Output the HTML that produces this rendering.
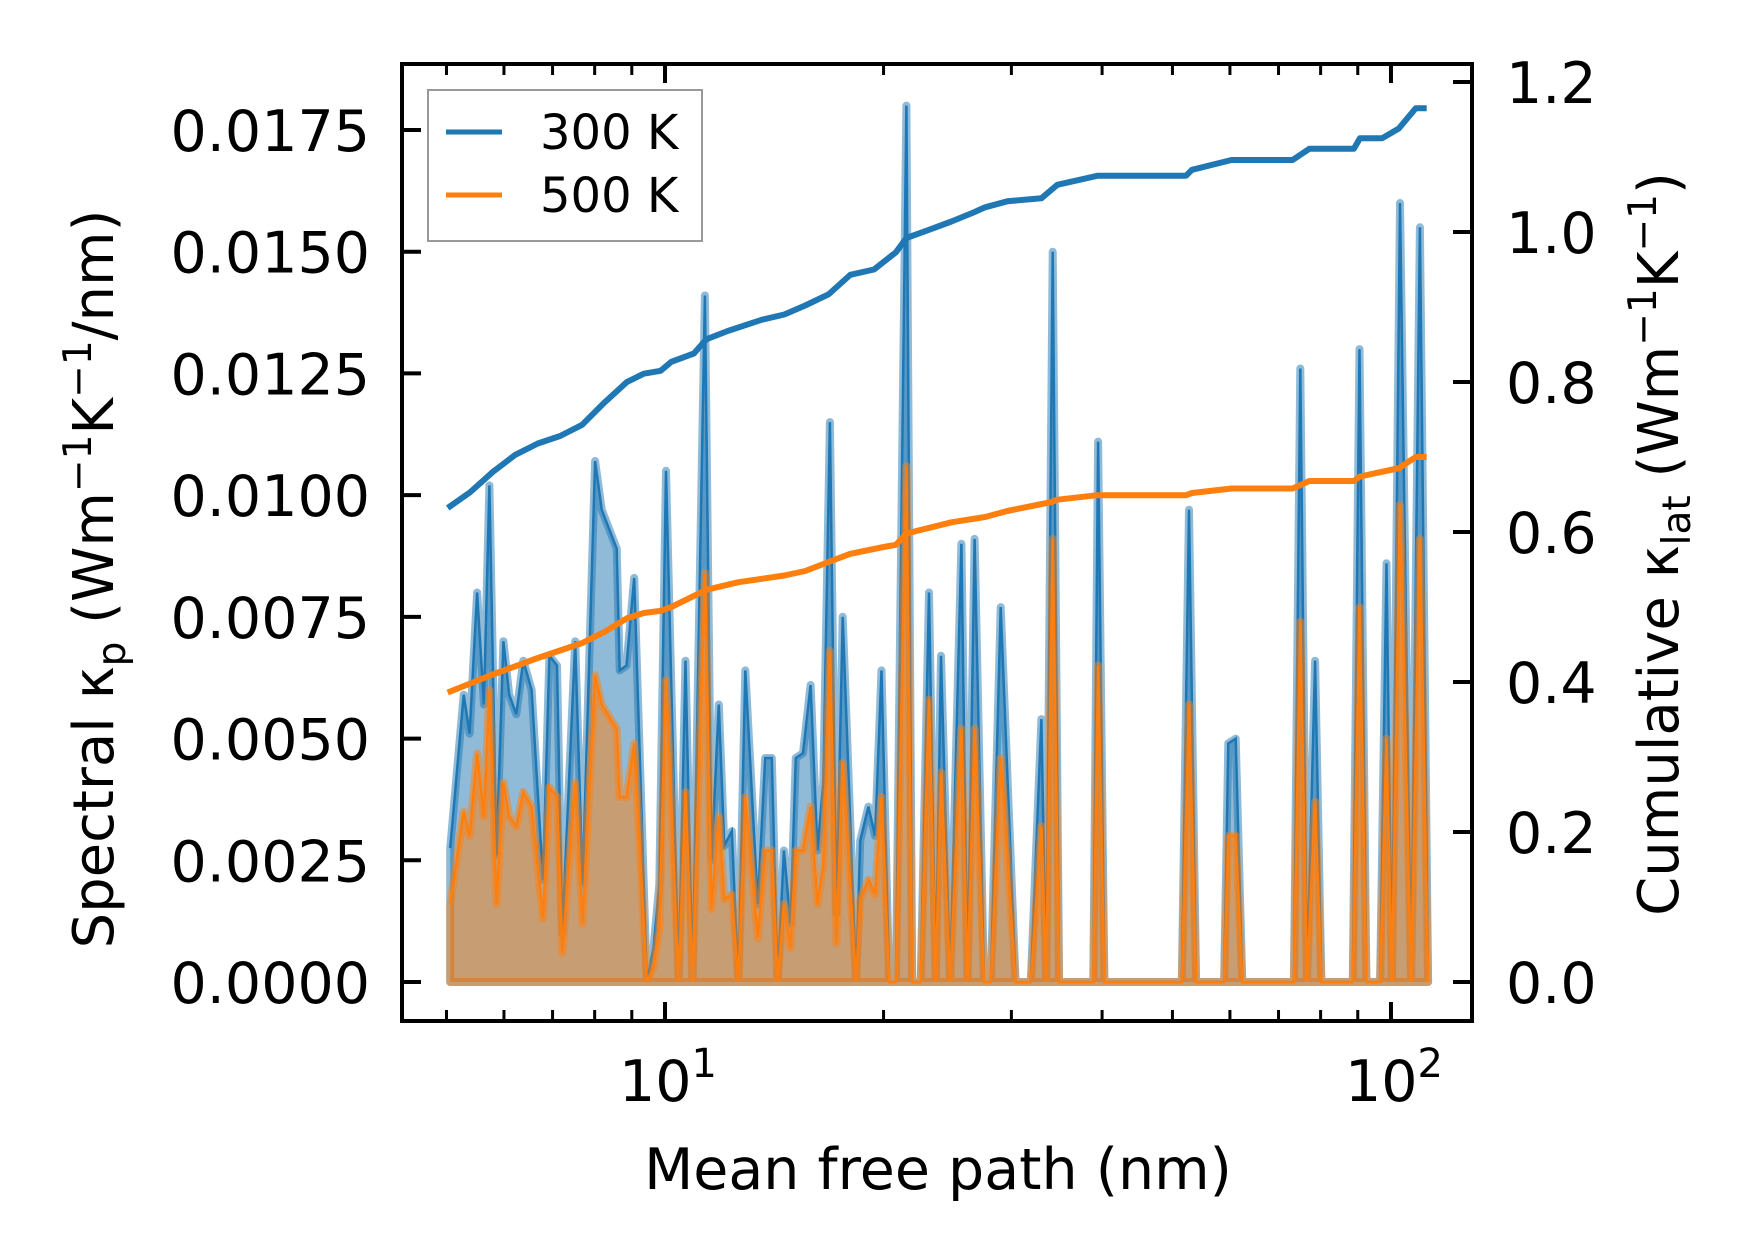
<!DOCTYPE html>
<html><head><meta charset="utf-8"><style>
html,body{margin:0;padding:0;background:#fff;}
svg{display:block;font-family:"DejaVu Sans","Liberation Sans",sans-serif;}
</style></head><body>
<svg id="chart" width="1753" height="1259" viewBox="0 0 1753 1259" xmlns="http://www.w3.org/2000/svg">
<rect width="1753" height="1259" fill="#fff"/>
<g id="plot"></g>
<g id="axes"></g>
</svg>
<script>
// ---- data ----
const specMfp = [5.06,5.28,5.38,5.51,5.63,5.73,5.86,5.99,6.10,6.24,6.38,6.55,6.79,6.93,7.10,7.22,7.52,7.70,8.01,8.18,8.58,8.66,8.85,9.07,9.44,9.64,9.82,10.03,10.44,10.67,10.91,11.35,11.59,11.86,12.07,12.36,12.62,12.90,13.42,13.74,14.03,14.29,14.58,14.89,15.14,15.49,15.87,16.22,16.52,16.87,17.22,17.57,18.33,18.57,19.06,19.47,19.87,20.36,20.8,21.5,21.9,22.5,23.1,23.6,24.0,24.7,25.6,26.1,26.7,27.5,28.1,29.0,30.4,31.9,33.0,33.5,34.2,34.9,38.9,39.5,40.3,51.5,52.7,53.9,58.9,59.7,61.1,62.4,73.5,75.0,76.6,78.6,80.2,88.6,90.5,92.5,96.6,98.6,100.3,102.9,106.6,109.6,112.5];
const spec300 = [0.00275,0.0059,0.0051,0.0080,0.0057,0.0102,0.0026,0.0070,0.0059,0.0055,0.0066,0.0060,0.0021,0.0067,0.0065,0.0010,0.0070,0.0020,0.0107,0.0097,0.0089,0.0064,0.0065,0.0083,0.0000,0.0007,0.0020,0.0105,0,0.0066,0,0.0141,0.0025,0.0057,0.0028,0.0031,0,0.0064,0.0016,0.0046,0.0046,0,0.0027,0.0012,0.0046,0.0047,0.0061,0.0027,0.0041,0.0115,0.0014,0.0075,0,0.0029,0.0036,0.0030,0.0064,0,0,0.0180,0,0,0.0080,0,0.0067,0,0.0090,0,0.0091,0,0,0.0077,0,0,0.0054,0,0.0150,0,0,0.0111,0,0,0.0097,0,0,0.0049,0.0050,0,0,0.0126,0,0.0066,0,0,0.0130,0,0,0.0086,0,0.0160,0,0.0155,0];
const spec500 = [0.0016,0.0035,0.0030,0.0047,0.0034,0.0060,0.0016,0.0041,0.0034,0.0032,0.0039,0.0036,0.0013,0.0040,0.0038,0.0006,0.0041,0.0012,0.0063,0.0057,0.0052,0.0038,0.0038,0.0049,0,0.0003,0.0011,0.0062,0,0.0039,0,0.0084,0.0015,0.0034,0.0017,0.0018,0,0.0038,0.0009,0.0027,0.0027,0,0.0016,0.0007,0.0027,0.0027,0.0036,0.0016,0.0024,0.0068,0.0008,0.0045,0,0.0017,0.0021,0.0018,0.0038,0,0,0.0106,0,0,0.0058,0,0.0043,0,0.0052,0,0.0052,0,0,0.0046,0,0,0.0032,0,0.0091,0,0,0.0065,0,0,0.0057,0,0,0.0030,0.0030,0,0,0.0074,0,0.0037,0,0,0.0077,0,0,0.0050,0,0.0098,0,0.0091,0];
const cumMfp300 = [5.02,5.39,5.79,6.22,6.68,7.17,7.69,8.26,8.86,9.35,9.86,10.2,10.96,11.4,12.2,13.6,14.6,15.6,16.8,18.0,19.4,20.8,21.5,23.1,24.8,26.6,27.6,29.6,33.0,34.7,39.4,52.2,53.2,60.3,73.2,77.2,88.9,90.6,97.2,102.5,108.2,112];
const cum300 = [0.632,0.653,0.680,0.703,0.718,0.728,0.743,0.773,0.800,0.811,0.815,0.827,0.838,0.857,0.868,0.883,0.890,0.902,0.917,0.943,0.950,0.973,0.992,1.003,1.014,1.026,1.033,1.041,1.045,1.063,1.075,1.075,1.083,1.096,1.096,1.111,1.111,1.125,1.125,1.138,1.165,1.165];
const cumMfp500 = [5.02,5.79,6.68,7.69,8.26,8.86,9.35,9.86,10.2,11.4,12.6,14.6,15.6,16.8,18.0,20.0,20.8,21.5,24.8,27.6,29.6,34.1,34.7,39.4,52.2,53.2,60.3,73.2,77.2,88.9,90.6,102.5,108.2,112];
const cum500 = [0.386,0.410,0.432,0.452,0.467,0.485,0.492,0.495,0.500,0.523,0.533,0.542,0.548,0.560,0.571,0.580,0.583,0.598,0.613,0.620,0.628,0.640,0.643,0.649,0.649,0.652,0.658,0.658,0.668,0.668,0.674,0.685,0.700,0.700];
const leftTicks = [0,0.0025,0.005,0.0075,0.01,0.0125,0.015,0.0175];
const leftTickLabels = ["0.0000","0.0025","0.0050","0.0075","0.0100","0.0125","0.0150","0.0175"];
const rightTicks = [0,0.2,0.4,0.6,0.8,1.0,1.2];
const rightTickLabels = ["0.0","0.2","0.4","0.6","0.8","1.0","1.2"];
const xMajor = [10,100];
const xMinor = [5,6,7,8,9,20,30,40,50,60,70,80,90];

// ---- axes ----
const X0=402,X1=1472,Y0=64,Y1=1021;
const LGMIN=0.6377,LGMAX=2.1116;
function sx(v){return X0+(Math.log10(v)-LGMIN)/(LGMAX-LGMIN)*(X1-X0);}
const LMIN=-0.000801,LMAX=0.018855;
function syL(v){return Y1-(v-LMIN)/(LMAX-LMIN)*(Y1-Y0);}
const RMIN=-0.052,RMAX=1.224;
function syR(v){return Y1-(v-RMIN)/(RMAX-RMIN)*(Y1-Y0);}

const NS="http://www.w3.org/2000/svg";
function mk(tag,attrs,parent){const e=document.createElementNS(NS,tag);for(const k in attrs)e.setAttribute(k,attrs[k]);parent.appendChild(e);return e;}
const plot=document.getElementById('plot');
const axes=document.getElementById('axes');

function areaPath(ys){
  let d='M'+sx(specMfp[0]).toFixed(1)+','+syL(0).toFixed(1);
  for(let i=0;i<specMfp.length;i++) d+=' L'+sx(specMfp[i]).toFixed(1)+','+syL(ys[i]).toFixed(1);
  d+=' L'+sx(specMfp[specMfp.length-1]).toFixed(1)+','+syL(0).toFixed(1)+' Z';
  return d;
}
function linePts(xs,ys,fy){return xs.map((x,i)=>sx(x).toFixed(1)+','+fy(ys[i]).toFixed(1)).join(' ');}

const a3=mk('path',{d:areaPath(spec300),fill:'#1f77b4','fill-opacity':0.5,stroke:'#1f77b4','stroke-opacity':0.5,'stroke-width':8,'stroke-linejoin':'round'},plot);


const l3=mk('polyline',{points:linePts(specMfp,spec300,syL),fill:'none',stroke:'#1f77b4','stroke-width':2.5},plot);


const a5=mk('path',{d:areaPath(spec500),fill:'#ff7f0e','fill-opacity':0.5,stroke:'#ff7f0e','stroke-opacity':0.5,'stroke-width':8,'stroke-linejoin':'round'},plot);


const l5=mk('polyline',{points:linePts(specMfp,spec500,syL),fill:'none',stroke:'#ff7f0e','stroke-width':2.5},plot);


const c3=mk('polyline',{points:linePts(cumMfp300,cum300,syR),fill:'none',stroke:'#1f77b4','stroke-width':6,'stroke-linejoin':'round'},plot);


const c5=mk('polyline',{points:linePts(cumMfp500,cum500,syR),fill:'none',stroke:'#ff7f0e','stroke-width':6,'stroke-linejoin':'round'},plot);



// frame
const fr=mk('rect',{x:X0,y:Y0,width:X1-X0,height:Y1-Y0,fill:'none',stroke:'#000','stroke-width':4},axes);



leftTicks.forEach((v,i)=>{
  const y=syL(v);
  const t=mk('line',{x1:X0,x2:X0+19,y1:y,y2:y,stroke:'#000','stroke-width':4},axes);
  
  
  const tx=mk('text',{x:370,y:y+21,'text-anchor':'end','font-size':57,fill:'#000'},axes);
  tx.textContent=leftTickLabels[i];
  
  
});
rightTicks.forEach((v,i)=>{
  const y=syR(v);
  const t=mk('line',{x1:X1-19,x2:X1,y1:y,y2:y,stroke:'#000','stroke-width':4},axes);
  
  
  const tx=mk('text',{x:1506,y:y+21,'text-anchor':'start','font-size':57,fill:'#000'},axes);
  tx.textContent=rightTickLabels[i];
  
  
});
xMajor.forEach((v,i)=>{
  const x=sx(v);
  [[Y1,Y1-19],[Y0,Y0+19]].forEach(p=>{
    const t=mk('line',{x1:x,x2:x,y1:p[0],y2:p[1],stroke:'#000','stroke-width':4},axes);
    
    
  });
  const tx=mk('text',{x:x+3,y:1101,'text-anchor':'middle','font-size':57,fill:'#000'},axes);
  
  
  const b=mk('tspan',{},tx);b.textContent='10';
  const s=mk('tspan',{dy:-24,'font-size':40},tx);s.textContent=String(i+1);
});
xMinor.forEach(v=>{
  const x=sx(v);
  [[Y1,Y1-11],[Y0,Y0+11]].forEach(p=>{
    const t=mk('line',{x1:x,x2:x,y1:p[0],y2:p[1],stroke:'#000','stroke-width':3},axes);
    
    
  });
});
</script>
<svg style="position:absolute;left:0;top:0" width="1753" height="1259" xmlns="http://www.w3.org/2000/svg">
<g font-family="DejaVu Sans, Liberation Sans, sans-serif" fill="#000">
<text x="938" y="1189" text-anchor="middle" font-size="57">Mean free path (nm)</text>
<text transform="translate(113,579) rotate(-90)" text-anchor="middle" font-size="56">Spectral κ<tspan font-size="39" dy="12">p</tspan><tspan dy="-12"> (Wm</tspan><tspan font-size="39" dy="-22">−1</tspan><tspan dy="22">K</tspan><tspan font-size="39" dy="-22">−1</tspan><tspan dy="22">/nm)</tspan></text>
<text transform="translate(1678,544) rotate(-90)" text-anchor="middle" font-size="56">Cumulative κ<tspan font-size="39" dy="12">lat</tspan><tspan dy="-12"> (Wm</tspan><tspan font-size="39" dy="-22">−1</tspan><tspan dy="22">K</tspan><tspan font-size="39" dy="-22">−1</tspan><tspan dy="22">)</tspan></text>
<g>
<rect x="428" y="90" width="274" height="151" fill="#fff" fill-opacity="0.8" stroke="#999" stroke-width="2"/>
<line x1="446" x2="502" y1="132" y2="132" stroke="#1f77b4" stroke-width="5"/>
<text x="540" y="149" font-size="48">300 K</text>
<line x1="446" x2="502" y1="195" y2="195" stroke="#ff7f0e" stroke-width="5"/>
<text x="540" y="212" font-size="48">500 K</text>
</g>
</g>
</svg>
</body></html>
